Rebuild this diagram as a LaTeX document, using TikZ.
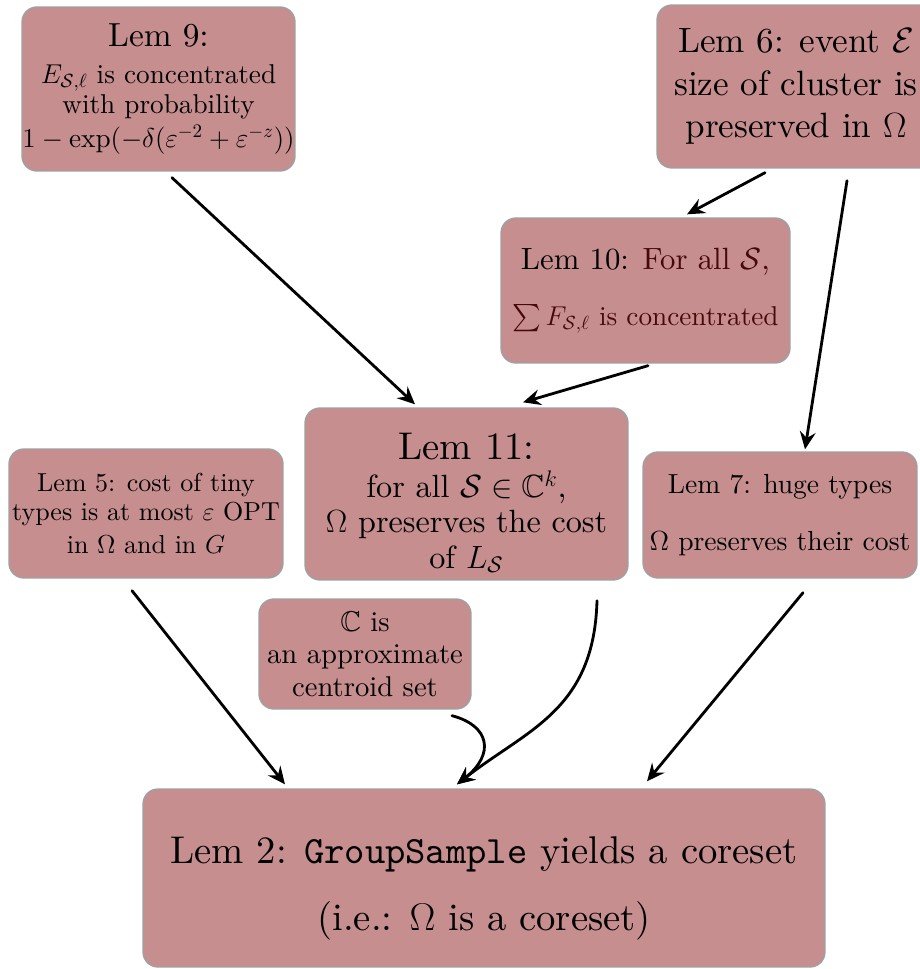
\documentclass[tikz,border=0pt]{standalone}
\usepackage{fix-cm}
\usepackage{amsmath,amssymb}
\usepackage{fontspec}
\setmainfont{lmroman10}[Extension=.otf,UprightFont=*-regular,BoldFont=*-bold,ItalicFont=*-italic,BoldItalicFont=*-bolditalic]
\setmonofont{lmmono10-regular.otf}
\usetikzlibrary{arrows.meta,calc}
\definecolor{lemfill}{RGB}{198,142,142}
\definecolor{lemedge}{RGB}{160,160,160}
\definecolor{lemred}{RGB}{70,8,8}
\begin{document}
\begin{tikzpicture}[x=0.02cm,y=-0.02cm,line cap=round,>={Stealth[length=10pt,width=9pt,inset=3.5pt]}]
			\tikzset{lem/.style={draw=lemedge,fill=lemfill,line width=0.8pt,rounded corners=0.3cm,align=center,inner sep=0pt}}
			\tikzset{arr/.style={->,line width=1.6pt}}
			\useasboundingbox (0,0) rectangle (919,969);
			\node[lem,minimum width=5.46cm,minimum height=3.28cm,font=\fontsize{15.5}{17}\selectfont] (lemnine) at (158.5,89)
				{{\fontsize{19}{22}\selectfont Lem 9:}\\[4pt] $E_{\mathcal{S},\ell}$ is concentrated\\ with probability\\[2pt] $1-\exp(-\delta(\varepsilon^{-2}+\varepsilon^{-z}))$};
			\node[lem,minimum width=5.56cm,minimum height=3.26cm,font=\fontsize{20}{24}\selectfont] (lemsix) at (796,86.5)
				{Lem 6: event $\mathcal{E}$\\ size of cluster is\\ preserved in $\Omega$};
			\node[lem,minimum width=5.78cm,minimum height=2.9cm,font=\fontsize{15.5}{18}\selectfont] (lemten) at (645.5,290.5)
				{{\fontsize{17.5}{20}\selectfont Lem 10: \textcolor{lemred}{For all $\mathcal{S}$,}}\\[14pt] \textcolor{lemred}{$\sum F_{\mathcal{S},\ell}$ is concentrated}};
			\node[lem,minimum width=6.46cm,minimum height=3.44cm,text height=87pt,font=\fontsize{18.3}{20}\selectfont] (lemeleven) at (466.5,494)
				{{\fontsize{22}{24}\selectfont Lem 11:}\\[2pt] for all $\mathcal{S}\in\mathbb{C}^k$,\\ $\Omega$ preserves the cost\\ of $L_{\mathcal{S}}$};
			\node[lem,minimum width=5.48cm,minimum height=2.58cm,font=\fontsize{14.8}{16.5}\selectfont] (lemfive) at (146,513.5)
				{Lem 5: cost of tiny\\ types is at most $\varepsilon$ OPT\\[2pt] in $\Omega$ and in $G$};
			\node[lem,minimum width=5.48cm,minimum height=2.52cm,font=\fontsize{15.7}{18}\selectfont] (lemseven) at (780,515)
				{Lem 7: huge types\\[14pt] $\Omega$ preserves their cost};
			\node[lem,minimum width=4.24cm,minimum height=2.2cm,font=\fontsize{16.3}{18.5}\selectfont] (centroid) at (365,654)
				{$\mathbb{C}$ is\\ an approximate\\ centroid set};
			\node[lem,minimum width=13.64cm,minimum height=3.56cm,text height=65pt,font=\fontsize{22}{26}\selectfont] (lemtwo) at (484,878)
				{Lem 2: \texttt{GroupSample} yields a coreset\\[12pt] (i.e.: $\Omega$ is a coreset)};
			\draw[arr] ($(lemnine.south)+(13.5,6)$) -- ($(lemeleven.north)+(-51.5,-3)$);
			\draw[arr] ($(lemsix.south)+(-31,4)$) -- ($(lemten.north)+(41.5,-3)$);
			\draw[arr] ($(lemsix.south)+(51,12)$) -- ($(lemseven.north)+(25,-2)$);
			\draw[arr] ($(lemten.south)+(2.5,2)$) -- ($(lemeleven.north)+(56.5,-5)$);
			\draw[arr] ($(lemfive.south)+(-14,12)$) -- ($(lemtwo.north)+(-199,-4)$);
			\draw[arr] ($(lemeleven.south)+(130.5,20)$) .. controls +(-3,110) and +(70,-55) .. ($(lemtwo.north)+(-27,-4)$);
			\draw[arr] ($(centroid.south)+(87,6)$) .. controls +(38,10) and +(38,-30) .. ($(lemtwo.north)+(-27,-4)$);
			\draw[arr] ($(lemseven.south)+(23,14)$) -- ($(lemtwo.north)+(163,-7)$);
		\end{tikzpicture}
\end{document}
